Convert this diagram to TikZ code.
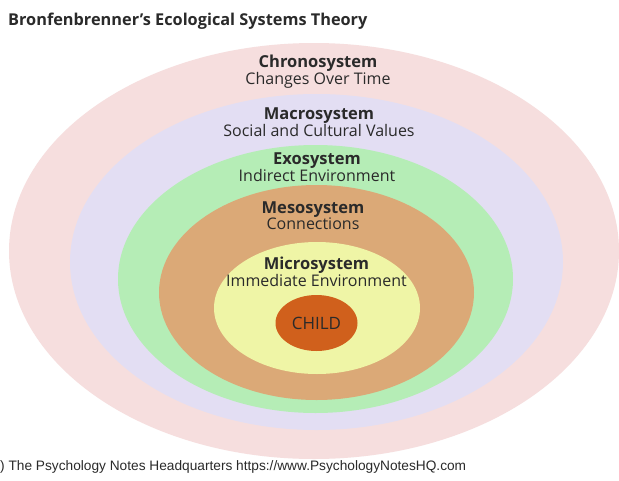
\documentclass[tikz,border=0pt]{standalone}
\usepackage{fontspec}
\setmainfont{Open Sans}
\newfontfamily\footfont{Liberation Sans}
\usetikzlibrary{shapes.geometric}
\definecolor{chronoc}{HTML}{F6DEDE}
\definecolor{macroc}{HTML}{E3DEF3}
\definecolor{exoc}{HTML}{B5EDB6}
\definecolor{mesoc}{HTML}{DBA977}
\definecolor{microc}{HTML}{EFF5A6}
\definecolor{childc}{HTML}{D0601C}
\definecolor{txtc}{HTML}{2A2A2A}
\newcommand{\hd}[1]{{\bfseries\fontsize{16.5}{16}\selectfont #1}}
\begin{document}
\begin{tikzpicture}[x=1pt,y=-1pt,
  ring/.style={ellipse, draw=none, inner sep=0pt},
  lbl/.style={align=center, text=txtc, inner sep=0pt, font=\fontsize{16}{16}\selectfont}]
\useasboundingbox (0,0) rectangle (619,480);
\fill[white] (0,0) rectangle (619,480);
\node[ring, fill=chronoc, minimum width=610pt, minimum height=416pt] (chrono) at (314,251) {};
\node[ring, fill=macroc, minimum width=493pt, minimum height=336pt] (macro) at (316.5,262) {};
\node[ring, fill=exoc, minimum width=395pt, minimum height=268pt] (exo) at (315.5,279) {};
\node[ring, fill=mesoc, minimum width=315pt, minimum height=215pt] (meso) at (316.5,292.5) {};
\node[ring, fill=microc, minimum width=206pt, minimum height=132pt] (micro) at (317,308) {};
\node[ring, fill=childc, minimum width=82pt, minimum height=56pt] (child) at (316.5,323) {};
\node[lbl, font=\fontsize{17}{17}\selectfont] (childlbl) at (child.center) {CHILD};
\node[lbl] (chronolbl) at (318,72) {\hd{Chronosystem}\\Changes Over Time};
\node[lbl] (macrolbl) at (319,122.5) {\hd{Macrosystem}\\Social and Cultural Values};
\node[lbl] (exolbl) at (317,167) {\hd{Exosystem}\\Indirect Environment};
\node[lbl] (mesolbl) at (313,216) {\hd{Mesosystem}\\Connections};
\node[lbl] (microlbl) at (316.5,271.5) {\hd{Microsystem}\\Immediate Environment};
\node[anchor=west, inner sep=0pt, text=txtc, font=\bfseries\fontsize{16.3}{18}\selectfont] (title) at (8,21) {Bronfenbrenner’s Ecological Systems Theory};
\node[anchor=west, inner sep=0pt, text=txtc, font=\footfont\fontsize{13.7}{15}\selectfont] (foot) at (0,467) {) The Psychology Notes Headquarters https://www.PsychologyNotesHQ.com};
\end{tikzpicture}
\end{document}
